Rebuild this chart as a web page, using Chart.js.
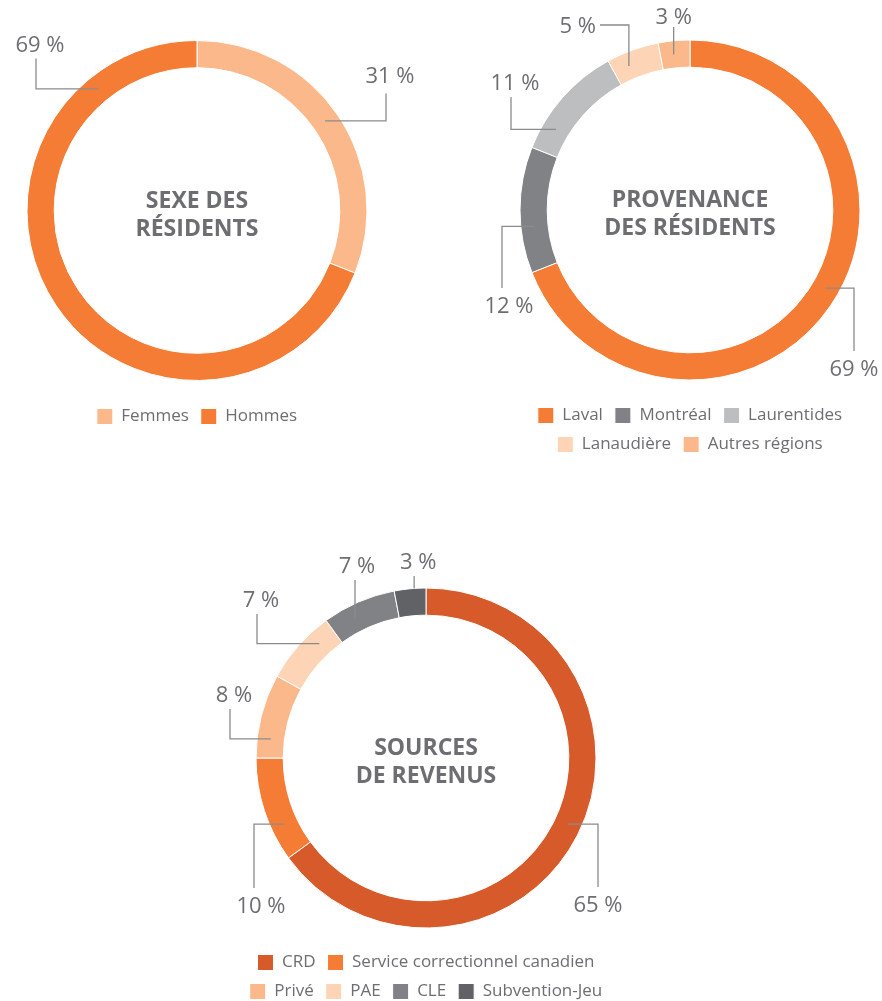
<!DOCTYPE html>
<html>
<head>
<meta charset="utf-8">
<script src="https://cdn.jsdelivr.net/npm/chart.js@4"></script>
<style>
  body { margin: 0; overflow: hidden; background: #fff; }
  .box { position: absolute; }
</style>
</head>
<body>
<div class="box" style="left:0;top:0;width:430px;height:440px"><canvas id="sexe"></canvas></div>
<div class="box" style="left:470px;top:0;width:440px;height:470px"><canvas id="provenance"></canvas></div>
<div class="box" style="left:206px;top:520px;width:440px;height:495px"><canvas id="revenus"></canvas></div>
<script>
// data (percent)
const sexeLabels = ['Femmes', 'Hommes'];
const sexeValues = [31, 69];

const provLabels = ['Laval', 'Montréal', 'Laurentides', 'Lanaudière', 'Autres régions'];
const provValues = [69, 12, 11, 5, 3];

const revLabels = ['CRD', 'Service correctionnel canadien', 'Privé', 'PAE', 'CLE', 'Subvention-Jeu'];
const revValues = [65, 10, 8, 7, 7, 3];

// colours
const ORANGE = '#F47C34';
const LIGHT_ORANGE = '#FBB98B';
const PALE = '#FDD5B6';
const GREY = '#808285';
const LIGHT_GREY = '#BCBEC0';
const RED_ORANGE = '#D75B2A';
const DARK_GREY = '#616265';
const TEXT = '#6D6E71';
const LINE = '#8A8B8D';

const sexeColors = [LIGHT_ORANGE, ORANGE];
const provColors = [ORANGE, GREY, LIGHT_GREY, PALE, LIGHT_ORANGE];
const revColors = [RED_ORANGE, ORANGE, LIGHT_ORANGE, PALE, GREY, DARK_GREY];

// leader lines: a = angle on the ring (deg, clockwise from top),
// ex / ey = elbow x / end y relative to the chart centre
const sexeLeaders = [
    { a: 55, ex: 189, ey: -117, gap: 11 },
    { a: 321, ex: -161, ey: -152 }
];
const provLeaders = [
    { a: 120, ex: 164, ey: 141, dx: 0 },
    { a: 264, ex: -188, ey: 78, dx: 7 },
    { a: 301, ex: -179, ey: -113 },
    { a: 337, type: 'vh', ex: -90, ey: -185 },
    { a: 354, type: 'v', ey: -183, gap: 3, dx: 0 }
];
const revLeaders = [
    { a: 115, ex: 172, ey: 129, dx: 0 },
    { a: 245, ex: -172, ey: 130, dx: 7 },
    { a: 277, ex: -196, ey: -49 },
    { a: 317, ex: -169, ey: -144 },
    { a: 333, type: 'v', ey: -178, dx: 2 },
    { a: 356, type: 'v', outer: true, ey: -182 }
];

// plugin: title in the middle + percent labels with leader lines
const ringLabels = {
    id: 'ringLabels',
    afterDraw(chart, args, opts) {
        const ctx = chart.ctx;
        const meta = chart.getDatasetMeta(0);
        const values = chart.data.datasets[0].data;
        const cx = meta.data[0].x;
        const cy = meta.data[0].y;
        ctx.save();
        // centre title
        ctx.fillStyle = TEXT;
        ctx.textAlign = 'center';
        ctx.textBaseline = 'alphabetic';
        ctx.font = '700 23px "Open Sans"';
        ctx.fillText(opts.title[0], cx, cy - 3);
        ctx.fillText(opts.title[1], cx, cy + 25);
        // leaders
        ctx.strokeStyle = LINE;
        ctx.lineWidth = 1.3;
        ctx.font = '22px "Open Sans"';
        opts.leaders.forEach(function(l, i) {
            const arc = meta.data[i];
            const r = l.outer ? arc.outerRadius : (arc.innerRadius + arc.outerRadius) / 2;
            const a = l.a * Math.PI / 180;
            const x0 = cx + r * Math.sin(a);
            const y0 = cy - r * Math.cos(a);
            const text = values[i] + ' %';
            let tx, ty;
            ctx.beginPath();
            ctx.moveTo(x0, y0);
            if (l.type === 'vh') {
                ctx.lineTo(x0, cy + l.ey);
                ctx.lineTo(cx + l.ex, cy + l.ey);
                ctx.stroke();
                ctx.textAlign = 'right';
                tx = cx + l.ex - 4;
                ty = cy + l.ey + 8;
            } else {
                const xe = l.type === 'v' ? x0 : cx + l.ex;
                const ye = cy + l.ey;
                ctx.lineTo(xe, y0);
                ctx.lineTo(xe, ye);
                ctx.stroke();
                ctx.textAlign = 'center';
                tx = xe + (l.dx !== undefined ? l.dx : 4);
                ty = ye < y0 ? ye - (l.gap || 7) : ye + 25;
            }
            ctx.fillText(text, tx, ty);
        });
        ctx.restore();
    }
};

function make_chart(id, labels, values, colors, title, leaders, padding) {
    return new Chart(document.getElementById(id), {
        type: 'doughnut',
        data: {
            labels: labels,
            datasets: [{
                data: values,
                backgroundColor: colors,
                borderColor: '#ffffff',
                borderWidth: 1
            }]
        },
        options: {
            responsive: true,
            maintainAspectRatio: false,
            animation: false,
            events: [],
            radius: 170,
            cutout: '84%',
            layout: { padding: padding },
            plugins: {
                legend: {
                    position: 'bottom',
                    labels: {
                        boxWidth: 16,
                        boxHeight: 16,
                        padding: 12,
                        color: TEXT,
                        font: { family: '"Open Sans"', size: 17 }
                    }
                },
                tooltip: { enabled: false },
                ringLabels: { title: title, leaders: leaders }
            }
        },
        plugins: [ringLabels]
    });
}

make_chart('sexe', sexeLabels, sexeValues, sexeColors,
    ['SEXE DES', 'RÉSIDENTS'], sexeLeaders,
    { top: 25, bottom: 5, left: 0, right: 36 });
make_chart('provenance', provLabels, provValues, provColors,
    ['PROVENANCE', 'DES RÉSIDENTS'], provLeaders,
    { top: 25, bottom: 7, left: 30, right: 30 });
make_chart('revenus', revLabels, revValues, revColors,
    ['SOURCES', 'DE REVENUS'], revLeaders,
    { top: 54, bottom: 5, left: 10, right: 10 });
</script>
</body>
</html>
